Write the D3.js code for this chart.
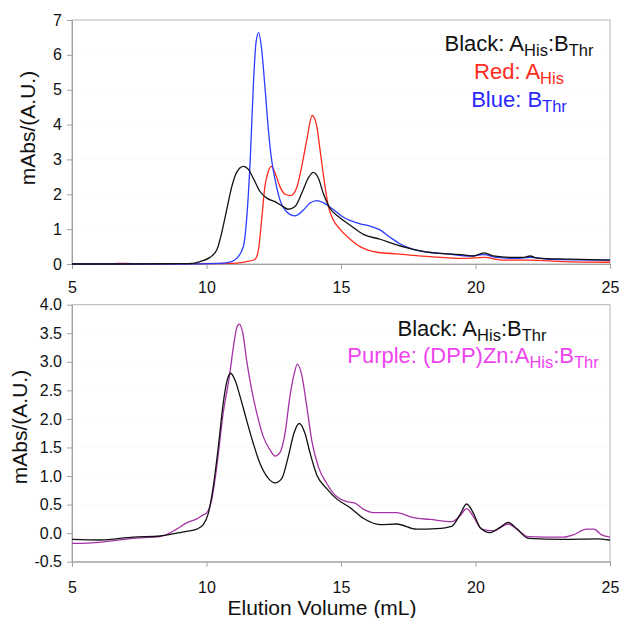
<!DOCTYPE html>
<html>
<head>
<meta charset="utf-8">
<script src="https://cdn.jsdelivr.net/npm/d3@7/dist/d3.min.js"></script>
<style>
  html, body { margin: 0; padding: 0; background: #fff; }
  svg { display: block; font-family: "Liberation Sans", Arial, sans-serif; }
</style>
</head>
<body>
<svg id="chart" width="621" height="618"></svg>
<script>
// ---------------- DATA ----------------
const xTicks = [5, 10, 15, 20, 25];
const topYTicks = [0, 1, 2, 3, 4, 5, 6, 7];
const botYTicks = [-0.5, 0.0, 0.5, 1.0, 1.5, 2.0, 2.5, 3.0, 3.5, 4.0];

// Top panel: Black A_His:B_Thr
const topBlackVol = [5, 7, 9, 9.5, 9.76, 10.13, 10.38, 10.56, 10.75, 10.94, 11.12, 11.37, 11.55, 11.74, 11.99, 12.24, 12.55, 12.8, 13.04, 13.29, 13.54, 13.78, 13.97, 14.16, 14.34, 14.59, 14.9, 15.33, 15.83, 16.45, 17.07, 17.81, 18.56, 19.55, 19.92, 20.32, 20.66, 21.28, 21.8, 22.03, 22.3, 23.51, 25];
const topBlackAbs = [0, 0, 0.01, 0.02, 0.07, 0.19, 0.4, 0.88, 1.55, 2.22, 2.63, 2.8, 2.72, 2.46, 2.08, 1.89, 1.79, 1.67, 1.57, 1.65, 2.03, 2.46, 2.63, 2.46, 2.03, 1.6, 1.36, 1.12, 0.85, 0.71, 0.55, 0.4, 0.31, 0.26, 0.23, 0.32, 0.23, 0.19, 0.19, 0.23, 0.17, 0.14, 0.11];

// Top panel: Red A_His
const topRedVol = [5, 6.5, 7, 7.5, 11, 11.49, 11.8, 11.93, 12.05, 12.17, 12.3, 12.42, 12.55, 12.73, 12.92, 13.13, 13.35, 13.54, 13.73, 13.93, 14.1, 14.22, 14.37, 14.53, 14.71, 14.96, 15.33, 15.71, 16.0, 16.4, 17.07, 18.31, 19.55, 20.32, 21.03, 22.03, 23.26, 25];
const topRedAbs = [0, 0.01, 0.02, 0, 0.02, 0.07, 0.13, 0.4, 1.27, 2.22, 2.66, 2.8, 2.61, 2.22, 2.0, 1.96, 2.18, 2.8, 3.57, 4.26, 3.95, 3.28, 2.42, 1.65, 1.27, 1.0, 0.72, 0.5, 0.4, 0.33, 0.29, 0.21, 0.16, 0.19, 0.11, 0.11, 0.07, 0.05];

// Top panel: Blue B_Thr
const topBlueVol = [5, 9, 10.5, 10.9, 11.12, 11.37, 11.49, 11.62, 11.74, 11.84, 11.94, 12.05, 12.17, 12.3, 12.42, 12.55, 12.73, 12.98, 13.29, 13.6, 13.85, 14.1, 14.34, 14.65, 15.09, 15.33, 15.71, 16.08, 16.45, 16.82, 17.19, 17.69, 18.31, 18.93, 19.8, 20.3, 20.79, 21.53, 22.03, 22.77, 25];
const topBlueAbs = [0, 0, 0.02, 0.06, 0.16, 0.5, 1.27, 2.9, 5.1, 6.35, 6.64, 6.16, 5.1, 3.85, 2.99, 2.42, 1.84, 1.5, 1.38, 1.55, 1.75, 1.82, 1.76, 1.6, 1.34, 1.25, 1.15, 1.09, 0.98, 0.77, 0.58, 0.42, 0.33, 0.29, 0.23, 0.27, 0.19, 0.16, 0.19, 0.13, 0.11];

// Bottom panel: Black A_His:B_Thr
const botBlackVol = [5, 6.04, 7.28, 8.27, 8.89, 9.26, 9.64, 9.88, 10.07, 10.25, 10.44, 10.62, 10.77, 10.9, 11.06, 11.25, 11.49, 11.74, 11.99, 12.3, 12.55, 12.8, 13.04, 13.25, 13.45, 13.66, 13.85, 14.1, 14.47, 14.84, 15.33, 15.83, 16.45, 17.07, 17.81, 18.56, 19.11, 19.42, 19.67, 19.92, 20.17, 20.54, 20.91, 21.22, 21.53, 21.96, 23.26, 24.5, 25];
const botBlackAbs = [-0.11, -0.12, -0.07, -0.05, 0.0, 0.03, 0.07, 0.15, 0.35, 0.81, 1.51, 2.27, 2.68, 2.8, 2.68, 2.39, 1.98, 1.57, 1.22, 0.96, 0.88, 0.96, 1.34, 1.75, 1.92, 1.75, 1.4, 1.02, 0.78, 0.6, 0.45, 0.26, 0.15, 0.16, 0.07, 0.08, 0.12, 0.32, 0.51, 0.35, 0.1, 0.01, 0.1, 0.19, 0.08, -0.09, -0.11, -0.1, -0.12];

// Bottom panel: Purple (DPP)Zn:A_His:B_Thr
const botPurpleVol = [5, 6.04, 7.28, 8.27, 8.89, 9.26, 9.64, 9.88, 10.0, 10.19, 10.38, 10.62, 10.85, 11.0, 11.12, 11.22, 11.35, 11.49, 11.68, 11.87, 12.11, 12.36, 12.55, 12.73, 12.92, 13.1, 13.25, 13.38, 13.54, 13.73, 13.91, 14.16, 14.47, 14.84, 15.21, 15.5, 15.83, 16.2, 17.07, 17.69, 18.31, 19.11, 19.42, 19.67, 19.92, 20.23, 20.66, 21.22, 21.53, 21.96, 23.26, 23.63, 24.13, 24.4, 24.69, 25];
const botPurpleAbs = [-0.18, -0.16, -0.09, -0.06, 0.07, 0.18, 0.25, 0.32, 0.35, 0.58, 1.16, 2.1, 2.74, 3.26, 3.59, 3.66, 3.5, 3.03, 2.51, 2.1, 1.69, 1.46, 1.35, 1.41, 1.75, 2.39, 2.77, 2.96, 2.77, 2.21, 1.63, 1.16, 0.87, 0.64, 0.55, 0.53, 0.42, 0.36, 0.36, 0.27, 0.24, 0.2, 0.3, 0.43, 0.29, 0.07, 0.04, 0.16, 0.07, -0.06, -0.07, -0.03, 0.07, 0.07, -0.03, -0.07];

// ---------------- DRAWING ----------------
const svg = d3.select("#chart");
svg.append("rect").attr("width", 621).attr("height", 618).attr("fill", "#fff");

const plotLeft = 72, plotRight = 610;
const axisGray = "#a0a0a0";

function drawPanel(cfg) {
  const x = d3.scaleLinear().domain([5, 25]).range([plotLeft, plotRight]);
  const y = d3.scaleLinear().domain(cfg.yDomain).range([cfg.bottom, cfg.top]);
  const g = svg.append("g");

  // faint grid
  g.append("g").selectAll("line").data(cfg.yTicks.slice(1, -1)).join("line")
    .attr("x1", plotLeft).attr("x2", plotRight)
    .attr("y1", d => y(d)).attr("y2", d => y(d))
    .attr("stroke", "#ececec").attr("stroke-dasharray", "1,3").attr("stroke-width", 1);

  // frame
  g.append("rect")
    .attr("x", plotLeft).attr("y", cfg.top)
    .attr("width", plotRight - plotLeft).attr("height", cfg.bottom - cfg.top)
    .attr("fill", "none").attr("stroke", "#b4b4b4").attr("stroke-width", 1);

  // axes
  const xa = g.append("g").attr("transform", `translate(0,${cfg.bottom})`)
    .call(d3.axisBottom(x).tickValues(xTicks).tickFormat(d3.format("d"))
      .tickSize(5).tickSizeOuter(0).tickPadding(cfg.xPad));
  const ya = g.append("g").attr("transform", `translate(${plotLeft},0)`)
    .call(d3.axisLeft(y).tickValues(cfg.yTicks).tickFormat(cfg.yFmt)
      .tickSize(5).tickSizeOuter(0).tickPadding(5));
  [xa, ya].forEach(a => {
    a.select(".domain").attr("stroke", axisGray);
    a.selectAll(".tick line").attr("stroke", axisGray);
    a.selectAll(".tick text").attr("fill", "#111")
      .style("font-family", '"Liberation Sans", Arial, sans-serif')
      .style("font-size", "16px");
  });

  // y title
  g.append("text")
    .attr("transform", `translate(${cfg.yTitleX},${cfg.yTitleY}) rotate(-90)`)
    .attr("text-anchor", "middle")
    .attr("fill", "#111")
    .style("font-size", "21px")
    .text("mAbs/(A.U.)");

  // series
  const line = d3.line().x(d => x(d[0])).y(d => y(d[1])).curve(d3.curveMonotoneX);
  cfg.series.forEach(s => {
    const pts = s.vol.map((v, i) => [v, s.abs[i]]);
    g.append("path").datum(pts)
      .attr("d", line)
      .attr("fill", "none")
      .attr("stroke", s.color)
      .attr("stroke-width", 1.3)
      .attr("stroke-linejoin", "round");
  });

  // legend
  cfg.legend.forEach(item => {
    const t = g.append("text")
      .attr("x", item.x).attr("y", item.y)
      .attr("text-anchor", "middle")
      .attr("fill", item.color)
      .style("font-size", "22px");
    item.parts.forEach(p => {
      if (p.sub) {
        t.append("tspan").attr("dy", 5).style("font-size", "16.5px").text(p.t);
      } else {
        t.append("tspan").attr("dy", p.after ? -5 : 0).text(p.t);
      }
    });
  });
}

const legBlack = [{t: "Black: A"}, {t: "His", sub: true}, {t: ":B", after: true}, {t: "Thr", sub: true}];

drawPanel({
  top: 20, bottom: 264, yDomain: [0, 7], yTicks: topYTicks,
  yFmt: d3.format("d"), xPad: 13, yTitleX: 35, yTitleY: 128,
  series: [
    {vol: topRedVol, abs: topRedAbs, color: "#ff2a1a"},
    {vol: topBlueVol, abs: topBlueAbs, color: "#2a3cff"},
    {vol: topBlackVol, abs: topBlackAbs, color: "#111111"}
  ],
  legend: [
    {x: 519, y: 51, color: "#111", parts: legBlack},
    {x: 519, y: 79, color: "#ff2a1a", parts: [{t: "Red: A"}, {t: "His", sub: true}]},
    {x: 519, y: 107, color: "#2a2aff", parts: [{t: "Blue: B"}, {t: "Thr", sub: true}]}
  ]
});

drawPanel({
  top: 304.7, bottom: 561.7, yDomain: [-0.5, 4.0], yTicks: botYTicks,
  yFmt: d => d.toFixed(1), xPad: 15, yTitleX: 27, yTitleY: 427,
  series: [
    {vol: botPurpleVol, abs: botPurpleAbs, color: "#a533a5"},
    {vol: botBlackVol, abs: botBlackAbs, color: "#111111"}
  ],
  legend: [
    {x: 472, y: 336, color: "#111", parts: legBlack},
    {x: 473, y: 363, color: "#ee44ee", parts: [{t: "Purple: (DPP)Zn:A"}, {t: "His", sub: true}, {t: ":B", after: true}, {t: "Thr", sub: true}]}
  ]
});

// x title
svg.append("text")
  .attr("x", 322).attr("y", 615)
  .attr("text-anchor", "middle")
  .attr("fill", "#111")
  .style("font-size", "21px")
  .text("Elution Volume (mL)");
</script>
</body>
</html>
